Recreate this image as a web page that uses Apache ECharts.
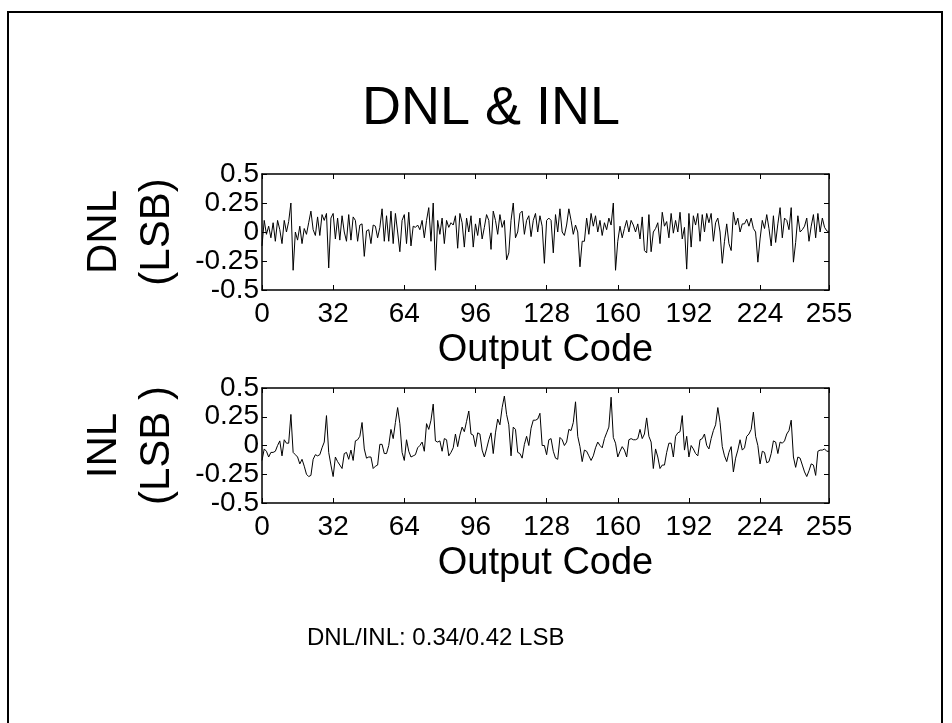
<!DOCTYPE html>
<html lang="en">
  <head>
    <meta charset="UTF-8" />
    <title>DNL & INL</title>
    <script src="https://cdn.jsdelivr.net/npm/echarts@6/dist/echarts.min.js"></script>
    <style>
      html, body { margin: 0; padding: 0; background: #fff; }
    </style>
  </head>

  <body>
    <div id="main" style="width: 952px; height: 723px"></div>

    <script>
      // tick labels
      var xTicks = [0, 32, 64, 96, 128, 160, 192, 224, 255];
      var yTicks = [-0.5, -0.25, 0, 0.25, 0.5];

      // DNL per output code 0..255 (LSB)
      var dnl = [
        -0.12, 0.1, -0.02, 0.05, -0.05, 0.08, -0.08, 0.1,
        0.02, -0.1, 0.1, 0.0, 0.09, 0.25, -0.33, 0.0,
        -0.07, 0.05, -0.1, 0.03, -0.02, 0.08, 0.18, 0.02,
        -0.03, 0.13, -0.03, 0.15, 0.1, 0.16, -0.31, 0.12,
        0.16, -0.06, 0.12, -0.07, 0.14, 0.0, -0.08, 0.15,
        -0.07, 0.13, 0.1, -0.08, 0.06, 0.07, -0.21, 0.01,
        0.02, -0.1, 0.06, 0.05, -0.05, 0.04, 0.2, -0.08,
        0.14, -0.08, 0.18, -0.1, 0.16, 0.0, -0.17, 0.1,
        0.15, -0.1, 0.17, -0.12, 0.05, 0.04, 0.06, 0.02,
        0.1, -0.05, 0.1, 0.21, -0.08, 0.25, -0.33, 0.1,
        -0.02, 0.12, -0.1, 0.1, 0.04, 0.08, 0.06, 0.14,
        -0.14, 0.16, 0.08, -0.13, 0.12, 0.0, 0.14, -0.13,
        0.07, -0.03, 0.12, -0.06, 0.04, 0.15, 0.1, -0.15,
        0.18, 0.1, -0.02, 0.15, 0.04, 0.1, -0.24, -0.18,
        0.1, 0.25, -0.05, 0.0, 0.16, 0.18, -0.02, 0.1,
        0.14, -0.04, 0.1, 0.16, 0.0, 0.14, 0.05, -0.27,
        0.1, 0.12, 0.1, -0.18, 0.15, 0.0, 0.2, 0.0,
        -0.03, 0.06, 0.2, 0.1, -0.02, 0.06, 0.0, -0.3,
        -0.08, -0.08, 0.12, -0.02, 0.16, 0.05, 0.14, 0.0,
        0.1, -0.03, 0.08, 0.02, 0.12, 0.06, 0.25, -0.33,
        -0.08, 0.05, -0.05, 0.03, 0.1, 0.0, 0.1, 0.06,
        0.0, 0.07, -0.06, 0.13, -0.16, -0.18, 0.15, -0.17,
        0.0, 0.03, 0.08, -0.1, 0.17, 0.05, 0.09, -0.05,
        0.16, -0.01, 0.1, 0.0, 0.17, -0.06, 0.04, -0.32,
        0.16, -0.13, 0.14, 0.06, 0.16, -0.08, 0.15, 0.0,
        0.16, 0.08, 0.16, -0.08, 0.08, 0.12, 0.0, -0.27,
        -0.08, 0.07, -0.1, -0.16, 0.17, 0.06, 0.12, 0.0,
        0.07, 0.07, 0.11, 0.05, 0.12, 0.03, 0.0, -0.26,
        -0.06, 0.1, 0.03, 0.15, 0.03, -0.12, 0.14, -0.09,
        0.07, 0.21, -0.05, 0.12, 0.1, 0.02, 0.21, -0.26,
        -0.09, 0.14, 0.0, 0.02, 0.05, 0.12, -0.08, 0.05,
        0.15, -0.05, 0.16, 0.0, 0.12, 0.04, 0.01, 0.0
      ];

      // INL per output code 0..255 (LSB)
      var inl = [
        -0.13, -0.03, -0.05, -0.1, -0.06, -0.06, -0.05, 0.0,
        0.04, -0.09, 0.05, 0.02, 0.02, 0.27, -0.06, -0.08,
        -0.1, -0.16, -0.12, -0.18, -0.25, -0.27, -0.26, -0.12,
        -0.08, -0.09, -0.08, -0.02, 0.03, 0.26, -0.06, -0.17,
        -0.27, -0.1, -0.14, -0.17, -0.2, -0.07, -0.06, -0.12,
        -0.04, -0.13, 0.04, 0.05, 0.08, 0.2, -0.03, -0.11,
        -0.1, -0.1, -0.2, -0.18, -0.17, 0.01, 0.01, -0.07,
        -0.07, 0.0, 0.14, 0.06, 0.2, 0.33, 0.19, -0.06,
        -0.13, 0.05, -0.05, -0.1, -0.09, -0.08, -0.02, 0.0,
        0.03, -0.05, 0.19, 0.14, 0.22, 0.36, 0.04, 0.03,
        0.04, -0.05, 0.06, 0.05, -0.09, -0.06, -0.02, 0.1,
        -0.01, 0.09, 0.16, 0.12, 0.21, 0.3, 0.1, 0.09,
        -0.01, 0.11, 0.1, -0.04, -0.1, -0.03, 0.05, 0.11,
        -0.07, 0.11, 0.23, 0.18, 0.33, 0.43, 0.27, 0.18,
        -0.09, 0.16, 0.14, -0.06, -0.07, -0.11, 0.01, 0.08,
        0.0, 0.15, 0.22, 0.22, 0.23, 0.28, 0.0, 0.0,
        -0.08, 0.05, 0.06, -0.05, -0.11, -0.12, 0.07, 0.05,
        0.0, 0.03, 0.14, 0.13, 0.2, 0.38, 0.08, -0.01,
        -0.14, -0.04, -0.05, -0.09, -0.13, -0.09, -0.02, 0.03,
        0.0, -0.02, 0.06, 0.11, 0.16, 0.42, 0.07, 0.02,
        -0.1, -0.05, -0.01, -0.04, -0.1, 0.05, 0.06, 0.05,
        0.05, 0.06, 0.14, 0.06, 0.1, 0.24, 0.08, 0.03,
        -0.2, -0.03, -0.1, -0.2, -0.17, -0.17, -0.06, 0.02,
        0.02, -0.1, 0.08, 0.11, 0.12, 0.26, -0.04, 0.08,
        -0.1, 0.0, -0.03, -0.07, -0.09, 0.05, 0.06, 0.1,
        0.0, -0.03, 0.06, 0.13, 0.18, 0.33, 0.2, -0.01,
        -0.09, -0.14, -0.06, -0.01, -0.23, -0.11, -0.04, 0.05,
        -0.04, -0.02, 0.08, 0.1, 0.14, 0.29, 0.08, 0.0,
        -0.16, -0.05, -0.06, -0.15, -0.14, -0.07, 0.04, 0.03,
        -0.07, 0.03, 0.02, 0.04, 0.1, 0.13, 0.22, -0.1,
        -0.19, -0.1, -0.11, -0.17, -0.23, -0.27, -0.22, -0.16,
        -0.17, -0.26, -0.05, -0.04, -0.04, -0.03, -0.05, -0.05
      ];

      var font = "'Liberation Sans', Arial, Helvetica, sans-serif";

      function pairs(vals) {
        return vals.map(function (v, i) { return [i, v]; });
      }

      var boxLine = { show: true, onZero: false, lineStyle: { color: "#000", width: 1.5 } };
      var inTick = { show: true, inside: true, length: 5, lineStyle: { color: "#000", width: 1 } };

      function xAxes(grid) {
        return [
          {
            gridIndex: grid, type: "value", position: "bottom",
            min: 0, max: 255, interval: 32,
            name: "Output Code", nameLocation: "middle", nameGap: 42,
            nameTextStyle: { fontFamily: font, fontSize: 38, color: "#000" },
            axisLine: boxLine,
            axisTick: inTick,
            axisLabel: {
              fontFamily: font, fontSize: 28, color: "#000", margin: 10,
              formatter: function (v) { return xTicks.indexOf(v) >= 0 ? String(v) : ""; }
            },
            splitLine: { show: false }
          },
          {
            gridIndex: grid, type: "value", position: "top",
            min: 0, max: 255, interval: 32,
            axisLine: boxLine,
            axisTick: inTick,
            axisLabel: { show: false },
            splitLine: { show: false }
          }
        ];
      }

      function yAxes(grid, label) {
        return [
          {
            gridIndex: grid, type: "value", position: "left",
            min: -0.5, max: 0.5, interval: 0.25,
            name: label, nameLocation: "middle", nameRotate: 90, nameGap: 75,
            nameTextStyle: { fontFamily: font, fontSize: 42, lineHeight: 53, color: "#000", align: "center" },
            axisLine: boxLine,
            axisTick: inTick,
            axisLabel: {
              fontFamily: font, fontSize: 28, color: "#000", margin: 3,
              formatter: function (v) { return yTicks.indexOf(v) >= 0 ? String(v) : ""; }
            },
            splitLine: { show: false }
          },
          {
            gridIndex: grid, type: "value", position: "right",
            min: -0.5, max: 0.5, interval: 0.25,
            axisLine: boxLine,
            axisTick: inTick,
            axisLabel: { show: false },
            splitLine: { show: false }
          }
        ];
      }

      var myChart = echarts.init(document.getElementById("main"));

      var option = {
        animation: false,
        backgroundColor: "#fff",
        title: {
          text: "DNL & INL",
          left: 486,
          top: 77,
          textAlign: "center",
          textStyle: { fontFamily: font, fontSize: 54, fontWeight: "normal", color: "#000" }
        },
        grid: [
          { left: 262, top: 174, width: 567, height: 116 },
          { left: 262, top: 388, width: 567, height: 115 }
        ],
        xAxis: xAxes(0).concat(xAxes(1)),
        yAxis: yAxes(0, "DNL\n(LSB)").concat(yAxes(1, "INL\n(LSB )")),
        series: [
          {
            name: "DNL", type: "line", xAxisIndex: 0, yAxisIndex: 0,
            data: pairs(dnl), showSymbol: false,
            lineStyle: { color: "#000", width: 1 }
          },
          {
            name: "INL", type: "line", xAxisIndex: 2, yAxisIndex: 2,
            data: pairs(inl), showSymbol: false,
            lineStyle: { color: "#000", width: 1 }
          }
        ],
        graphic: [
          {
            type: "rect", silent: true,
            shape: { x: 8, y: 12, width: 934, height: 730 },
            style: { fill: "none", stroke: "#000", lineWidth: 2 }
          },
          {
            type: "text", left: 307, top: 626,
            style: { text: "DNL/INL: 0.34/0.42 LSB", fontFamily: font, fontSize: 24, fill: "#000" }
          }
        ]
      };
      myChart.setOption(option);
    </script>
  </body>
</html>
